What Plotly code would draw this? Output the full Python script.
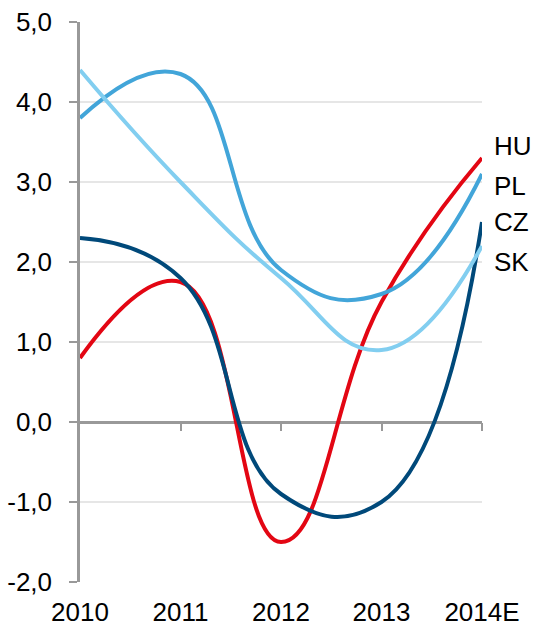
import plotly.graph_objects as go

# Categories and series values
years = ["2010", "2011", "2012", "2013", "2014E"]
hu = [0.8, 1.75, -1.5, 1.5, 3.3]
pl = [3.8, 4.35, 1.9, 1.6, 3.1]
cz = [2.3, 1.8, -0.9, -1.0, 2.5]
sk = [4.4, 3.0, 1.8, 0.9, 2.2]

y_ticks = [-2, -1, 0, 1, 2, 3, 4, 5]
y_tick_labels = ["-2,0", "-1,0", "0,0", "1,0", "2,0", "3,0", "4,0", "5,0"]

series = [
    ("HU", hu, "#E30613"),
    ("PL", pl, "#42A5D9"),
    ("CZ", cz, "#00497A"),
    ("SK", sk, "#82CEF0"),
]
label_y = {"HU": 3.45, "PL": 2.95, "CZ": 2.5, "SK": 2.0}

FONT = "Liberation Sans, Arial, sans-serif"
FS = 26
x_idx = list(range(len(years)))

fig = go.Figure()
for name, vals, color in series:
    fig.add_trace(go.Scatter(
        x=x_idx, y=vals, mode="lines", name=name,
        line=dict(color=color, width=4, shape="spline", smoothing=1.3),
        hoverinfo="skip",
    ))

# invisible trace holding the secondary axis that draws tick marks on the zero line
fig.add_trace(go.Scatter(x=[0, 4], y=[0, 0], xaxis="x2", mode="lines",
                         line=dict(width=0), opacity=0, hoverinfo="skip",
                         showlegend=False))

for name, vals, color in series:
    fig.add_annotation(x=4, y=label_y[name], text=name, xref="x", yref="y",
                       xanchor="left", yanchor="middle", xshift=10,
                       showarrow=False, font=dict(family=FONT, size=FS, color="#000"))

fig.update_layout(
    width=533, height=626,
    margin=dict(l=80, r=51, t=22, b=44),
    paper_bgcolor="white", plot_bgcolor="white",
    showlegend=False,
    font=dict(family=FONT, size=FS, color="#000"),
    xaxis=dict(
        range=[0, 4], tickvals=x_idx, ticktext=years, automargin=False,
        showgrid=False, zeroline=False, showline=False, ticks="",
        tickfont=dict(size=FS), ticklabelstandoff=12,
    ),
    xaxis2=dict(
        range=[0, 4], overlaying="x", anchor="free", position=2 / 7,
        automargin=False,
        tickvals=[1, 2, 3, 4], ticks="outside", ticklen=8, tickwidth=2,
        tickcolor="#999999", showticklabels=False, showgrid=False,
        zeroline=False, showline=False,
    ),
    yaxis=dict(
        range=[-2, 5], tickvals=y_ticks, ticktext=y_tick_labels,
        automargin=False,
        showgrid=True, gridcolor="#E6E6E6", gridwidth=1.5,
        zeroline=True, zerolinecolor="#999999", zerolinewidth=2.5,
        showline=True, linecolor="#999999", linewidth=2.5,
        ticks="outside", ticklen=8, tickwidth=2, tickcolor="#999999",
        tickfont=dict(size=FS), ticklabelstandoff=12,
    ),
)

fig.write_html("out.html")
